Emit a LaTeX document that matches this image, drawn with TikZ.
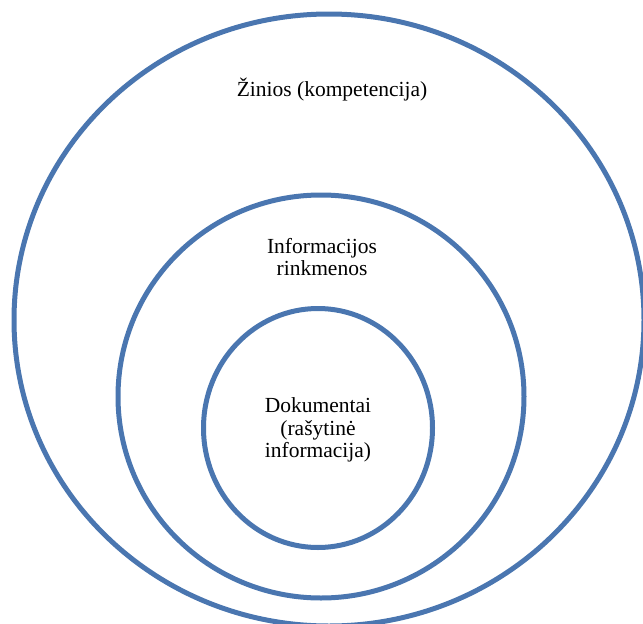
\documentclass[tikz,border=0pt]{standalone}
\usepackage{fontspec}
\setmainfont{Liberation Serif}
\usepackage{tikz}
\usetikzlibrary{shapes.geometric}
\definecolor{ringblue}{RGB}{74,118,176}
\tikzstyle{ring} = [ellipse, draw=ringblue, line width=5pt, inner sep=0pt]
\tikzstyle{ringtext} = [align=center, inner sep=0pt, font=\fontsize{21.5}{22.5}\selectfont]

\begin{document}
\begin{tikzpicture}[x=1pt, y=-1pt]

\useasboundingbox (0,0) rectangle (643,624);
\clip (0,0) rectangle (643,624);

\node (zinios) [ring, minimum width=630pt, minimum height=612pt] at (329,320) {};
\node (rinkmenos) [ring, minimum width=406pt, minimum height=403pt] at (321,396.5) {};
\node (dokumentai) [ring, minimum width=229pt, minimum height=239pt] at (318,428) {};

\node (zinios text) [ringtext] at (332,90) {Žinios (kompetencija)};
\node (rinkmenos text) [ringtext] at (322,257) {Informacijos\\rinkmenos};
\node (dokumentai text) [ringtext] at (318,430) {Dokumentai\\(rašytinė\\informacija)};

\end{tikzpicture}
\end{document}
